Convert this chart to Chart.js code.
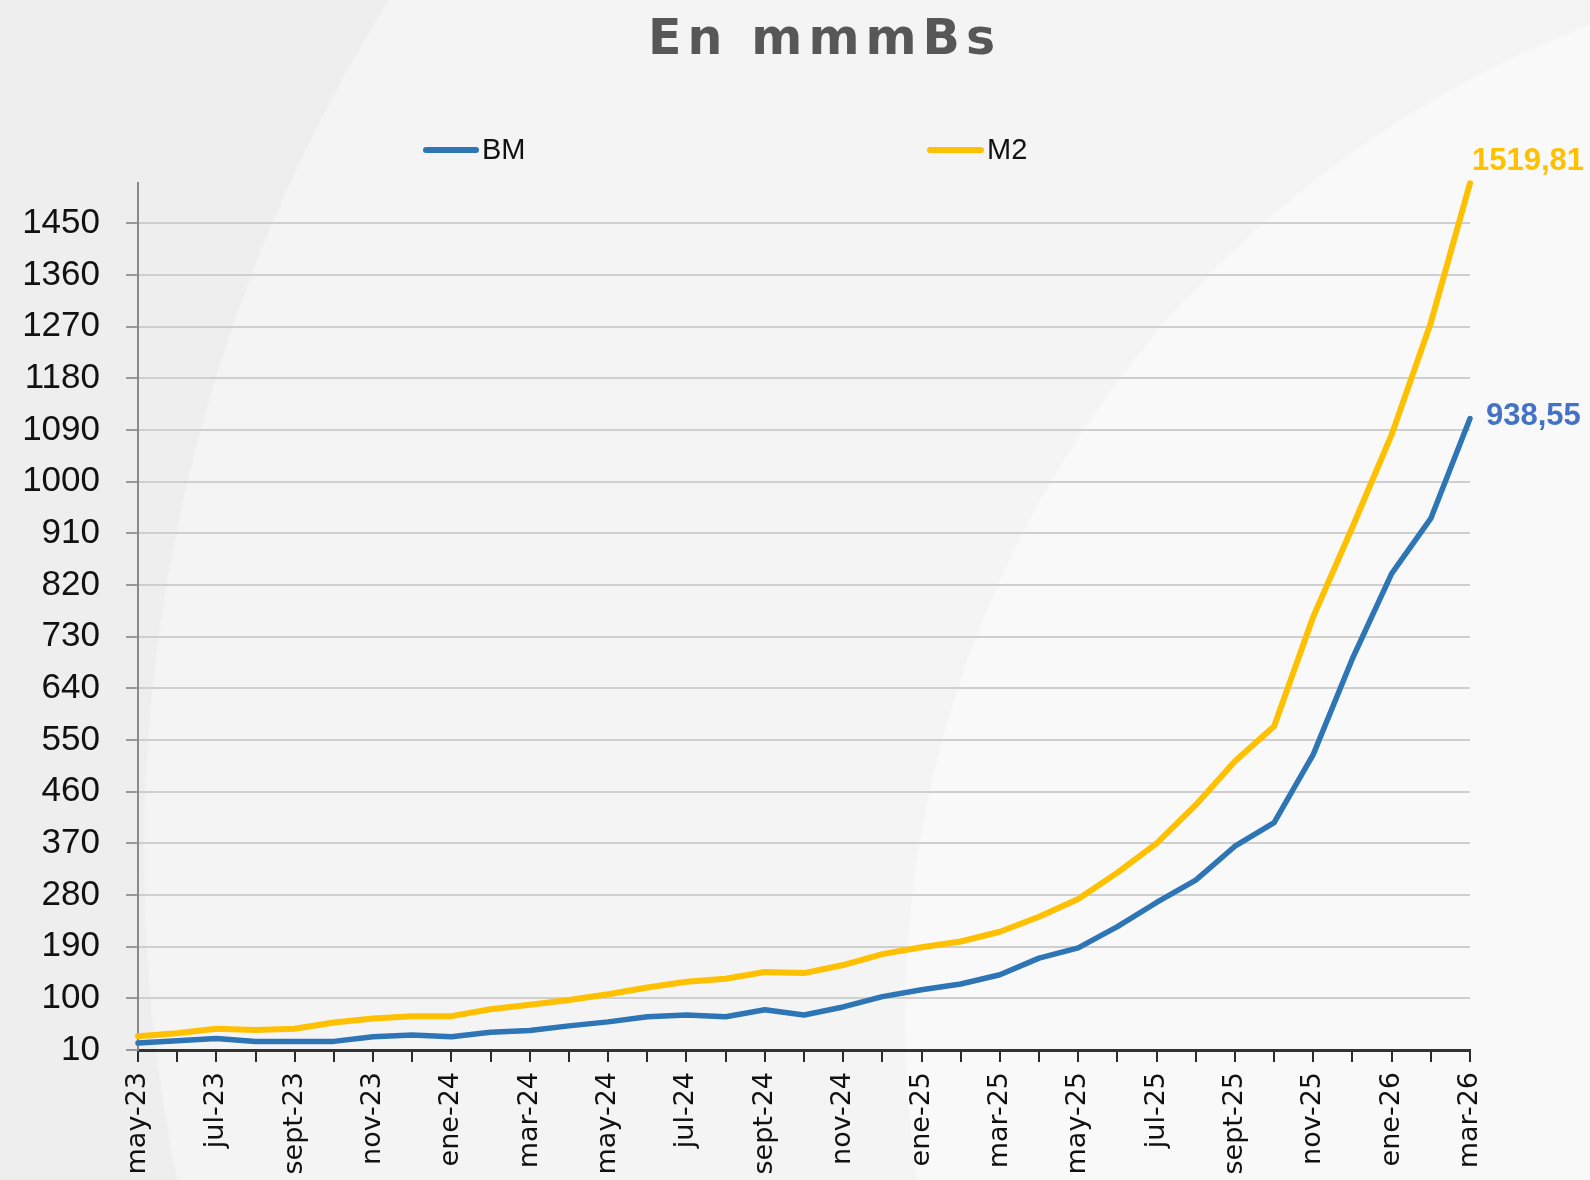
<!DOCTYPE html>
<html><head><meta charset="utf-8">
<script src="https://cdn.jsdelivr.net/npm/chart.js@4.4.1/dist/chart.umd.min.js"></script>
<style>
html,body{margin:0;padding:0;width:1590px;height:1180px;overflow:hidden;}
body{background:
 radial-gradient(circle 1066px at 1970px 1020px, #f9f9f9 1064px, rgba(249,249,249,0) 1066px),
 radial-gradient(circle 1612px at 1755px 854px, #f4f4f4 1610px, rgba(244,244,244,0) 1612px),
 #eeeeee;}
canvas{display:block;}
</style></head>
<body><canvas id="c" width="1590" height="1180"></canvas>
<script>
const months = ['may-23','jun-23','jul-23','ago-23','sept-23','oct-23','nov-23','dic-23',
  'ene-24','feb-24','mar-24','abr-24','may-24','jun-24','jul-24','ago-24','sept-24','oct-24','nov-24','dic-24',
  'ene-25','feb-25','mar-25','abr-25','may-25','jun-25','jul-25','ago-25','sept-25','oct-25','nov-25','dic-25',
  'ene-26','feb-26','mar-26'];
const bm = [22, 26, 30, 25, 25, 25, 33, 36, 33, 41, 44, 52, 59, 68, 71, 68, 80, 71, 85, 103,
  115, 125, 141, 170, 188, 225, 267, 306, 365, 406, 525, 692, 840, 936, 1110];
const m2 = [34, 39, 47, 45, 47, 58, 65, 69, 69, 81, 89, 97, 107, 119, 129, 134, 146, 144, 158, 177,
  189, 199, 216, 242, 273, 319, 370, 437, 513, 574, 765, 921, 1082, 1277, 1519.81];
const yTicks = [10,100,190,280,370,460,550,640,730,820,910,1000,1090,1180,1270,1360,1450];
const seriesNames = ['BM','M2'];
const endLabels = ['938,55','1519,81'];
const titleText = 'En mmmBs';

const BLUE = '#2E75B6', YELLOW = '#FFC000';

const decor = {
  id: 'decor',
  afterDatasetsDraw(chart) {
    const ctx = chart.ctx;
    chart.data.datasets.forEach((ds, i) => {
      const meta = chart.getDatasetMeta(i);
      const last = meta.data[meta.data.length - 1];
      ctx.save();
      ctx.font = 'bold 31px "Liberation Sans", Arial, sans-serif';
      ctx.fillStyle = ds.endLabelColor;
      ctx.textAlign = 'left';
      ctx.textBaseline = 'middle';
      ctx.fillText(endLabels[i], last.x + ds.endLabelDx, last.y + ds.endLabelDy);
      ctx.restore();
    });
  },
  afterDraw(chart) {
    const ctx = chart.ctx;
    // title with letter spacing
    ctx.save();
    ctx.font = 'bold 49px "DejaVu Sans", sans-serif';
    ctx.fillStyle = '#575757';
    ctx.textBaseline = 'alphabetic';
    ctx.textAlign = 'left';
    const sp = 6;
    const chars = [...titleText];
    let total = 0;
    chars.forEach(c => total += ctx.measureText(c).width);
    total += sp * (chars.length - 1);
    let x = 821.5 - total / 2;
    chars.forEach(c => { ctx.fillText(c, x, 54); x += ctx.measureText(c).width + sp; });
    ctx.restore();
    // legend
    const legendPos = [{x1: 426, x2: 476, tx: 482}, {x1: 930, x2: 981, tx: 987}];
    chart.data.datasets.forEach((ds, i) => {
      const p = legendPos[i];
      ctx.save();
      ctx.strokeStyle = ds.borderColor;
      ctx.lineWidth = 6;
      ctx.lineCap = 'round';
      ctx.beginPath(); ctx.moveTo(p.x1, 150); ctx.lineTo(p.x2, 150); ctx.stroke();
      ctx.font = '29px "Liberation Sans", Arial, sans-serif';
      ctx.fillStyle = '#111';
      ctx.textBaseline = 'middle';
      ctx.textAlign = 'left';
      ctx.fillText(ds.label, p.tx, 151);
      ctx.restore();
    });
  }
};

new Chart(document.getElementById('c'), {
  type: 'line',
  data: {
    labels: months,
    datasets: [
      {label: seriesNames[0], data: bm, borderColor: BLUE, borderWidth: 5.5, pointRadius: 0,
       tension: 0, borderJoinStyle: 'round', borderCapStyle: 'round', clip: 10,
       endLabelColor: '#4472C4', endLabelDx: 16, endLabelDy: -2},
      {label: seriesNames[1], data: m2, borderColor: YELLOW, borderWidth: 6, pointRadius: 0,
       tension: 0, borderJoinStyle: 'round', borderCapStyle: 'round', clip: 10,
       endLabelColor: YELLOW, endLabelDx: 2, endLabelDy: -22}
    ]
  },
  options: {
    responsive: false,
    animation: false,
    layout: {padding: {top: 183.3, right: 120, left: 0, bottom: 0}},
    plugins: {legend: {display: false}, title: {display: false}, tooltip: {enabled: false}},
    scales: {
      x: {
        type: 'category',
        offset: false,
        afterFit(scale) { scale.height = 130; },
        grid: {display: true, drawOnChartArea: false, drawTicks: true, tickLength: 12,
               color: '#2a2a2a', lineWidth: 2},
        border: {display: true, color: '#333333', width: 3},
        ticks: {
          autoSkip: false, maxRotation: 90, minRotation: 90, padding: 10,
          color: '#111',
          font: {family: '"DejaVu Sans", sans-serif', size: 27},
          callback: (v, i) => (i % 2 === 0 ? months[i] : '')
        }
      },
      y: {
        min: 10,
        max: Math.max(...m2),
        afterBuildTicks(scale) { scale.ticks = yTicks.map(v => ({value: v})); },
        afterFit(scale) { scale.width = 138; },
        grid: {color: '#cfcfcf', lineWidth: 2, tickLength: 12, tickColor: '#9a9a9a', drawTicks: true},
        border: {display: true, color: '#8a8a8a', width: 2},
        ticks: {
          padding: 26,
          color: '#111',
          font: {family: '"Liberation Sans", Arial, sans-serif', size: 35},
          callback: v => String(v)
        }
      }
    }
  },
  plugins: [decor]
});
</script>
</body></html>
